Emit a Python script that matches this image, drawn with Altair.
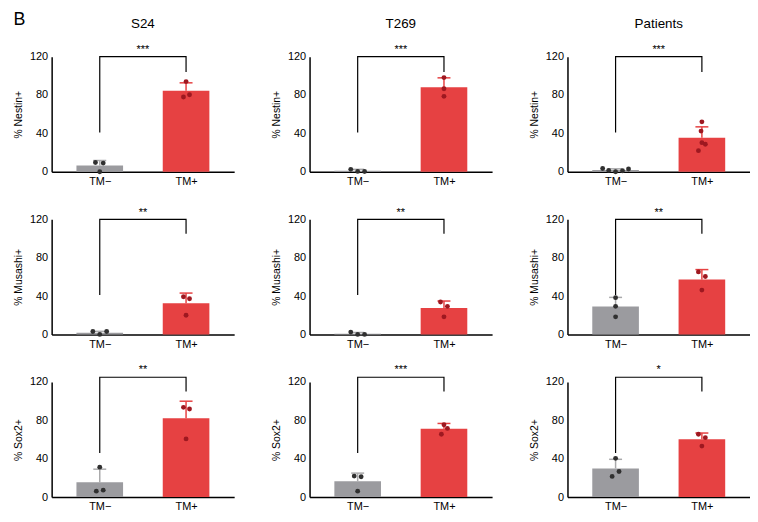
import altair as alt
import pandas as pd

FONT = "Liberation Sans"

COLS = ["S24", "T269", "Patients"]
ROW_TITLES = ["% Nestin+", "% Musashi+", "% Sox2+"]
GROUPS = ["TM\u2212", "TM+"]

# bar means [TM-, TM+] per panel, row-major (row = marker, col = cell line)
MEANS = [
    [[6.5, 84.5], [1.0, 88.0], [1.7, 35.5]],
    [[1.8, 32.4], [0.8, 27.6], [29.0, 57.2]],
    [[15.4, 82.3], [16.5, 71.3], [29.8, 60.4]],
]
# top of error bars
ERR_TOP = [
    [[11.7, 92.7], [2.5, 97.9], [3.0, 46.8]],
    [[3.2, 43.1], [2.0, 34.8], [38.6, 67.6]],
    [[29.1, 100.0], [25.0, 76.8], [39.4, 66.8]],
]
# individual replicate values [TM- list, TM+ list]
POINTS = [
    [[[9.6, 9.0, 0.0], [94.0, 77.9, 80.3]],
     [[2.5, 0.3, 0.2], [98.2, 86.5, 78.6]],
     [[3.4, 1.4, 0.0, 1.0, 2.8], [52.0, 42.4, 30.3, 28.6, 22.0]]],
    [[[3.0, 0.0, 3.0], [39.3, 37.2, 20.0]],
     [[2.4, 0.0, 0.0], [33.8, 29.3, 18.3]],
     [[38.3, 29.3, 18.3], [65.2, 60.4, 46.2]]],
    [[[31.2, 6.2, 7.2], [93.6, 91.9, 60.7]],
     [[21.9, 21.2, 6.2], [75.4, 71.6, 65.5]],
     [[40.4, 26.7, 21.6], [65.5, 62.0, 53.2]]],
]
# horizontal jitter of the replicate dots (fraction of category spacing)
JITTER = [
    [[[-0.05, 0.04, 0.0], [0.0, -0.03, 0.04]],
     [[-0.08, 0.0, 0.08], [0.0, 0.0, 0.0]],
     [[-0.15, -0.08, 0.0, 0.08, 0.15], [0.0, -0.01, 0.0, 0.04, -0.04]]],
    [[[-0.08, 0.0, 0.08], [-0.03, 0.04, 0.0]],
     [[-0.08, 0.0, 0.08], [-0.04, 0.04, 0.0]],
     [[0.0, 0.0, 0.0], [-0.04, 0.04, 0.0]]],
    [[[0.0, -0.04, 0.04], [-0.03, 0.04, 0.0]],
     [[-0.04, 0.04, 0.0], [0.0, 0.04, -0.03]],
     [[0.0, 0.04, -0.04], [-0.04, 0.04, 0.0]]],
]
STARS = [
    ["***", "***", "***"],
    ["**", "**", "**"],
    ["**", "***", "*"],
]
# bracket per row: left end, right end, top, star position
BRACKET = [
    [41, 104, 120, 127],
    [41, 105, 120, 127],
    [46, 110, 125, 132],
]

GRAY = "#9b9b9f"
RED = "#e64142"
GRAY_DOT = "#303030"
RED_DOT = "#9e1820"
GRAY_ERR = "#a9a9ab"

W, H = 184, 116
BAR_W = 47
CAP_HALF = 0.075


def xenc(field="pos"):
    return alt.X(
        f"{field}:Q",
        scale=alt.Scale(domain=[0.5, 2.5], nice=False, zero=False),
        axis=alt.Axis(values=[1, 2],
                      labelExpr=f"datum.value == 1 ? '{GROUPS[0]}' : '{GROUPS[1]}'",
                      labelPadding=4, grid=False, ticks=False),
        title=None,
    )


def yenc(field, title):
    return alt.Y(
        f"{field}:Q",
        scale=alt.Scale(domain=[0, 120], nice=False, zero=True),
        axis=alt.Axis(values=[0, 40, 80, 120], labelPadding=4, titlePadding=6,
                      grid=False, ticks=False),
        title=title,
    )


def panel(r, c):
    ytitle = ROW_TITLES[r]
    bars = pd.DataFrame({
        "pos": [1, 2],
        "grp": GROUPS,
        "mean": MEANS[r][c],
        "err": ERR_TOP[r][c],
    })
    prow = []
    for gi, g in enumerate(GROUPS):
        for v, j in zip(POINTS[r][c][gi], JITTER[r][c][gi]):
            prow.append({"pos": gi + 1 + j, "grp": g, "val": v})
    pts = pd.DataFrame(prow)
    lo, hi, top, star = BRACKET[r]
    br = pd.DataFrame({"pos": [1, 1, 2, 2], "y": [lo, top, top, hi], "o": [0, 1, 2, 3]})
    st = pd.DataFrame({"pos": [1.5], "y": [star], "t": [STARS[r][c]]})

    color_bar = alt.Color("grp:N", scale=alt.Scale(domain=GROUPS, range=[GRAY, RED]), legend=None)
    color_err = alt.Color("grp:N", scale=alt.Scale(domain=GROUPS, range=[GRAY_ERR, RED]), legend=None)
    color_dot = alt.Color("grp:N", scale=alt.Scale(domain=GROUPS, range=[GRAY_DOT, RED_DOT]), legend=None)

    base_b = alt.Chart(bars)
    bar = base_b.mark_bar(size=BAR_W, orient="vertical").encode(
        x=xenc(), y=yenc("mean", ytitle), color=color_bar)
    err = base_b.mark_rule(strokeWidth=1.5).encode(
        x=xenc(), y=yenc("mean", ytitle), y2="err:Q", color=color_err)
    cap = base_b.transform_calculate(
        l=f"datum.pos - {CAP_HALF}", rr=f"datum.pos + {CAP_HALF}"
    ).mark_rule(strokeWidth=1.5).encode(
        x=xenc("l"), x2="rr:Q", y=yenc("err", ytitle), color=color_err)
    dots = alt.Chart(pts).mark_circle(size=24, opacity=1).encode(
        x=xenc(), y=yenc("val", ytitle), color=color_dot)
    bracket = alt.Chart(br).mark_line(color="black", strokeWidth=1.2).encode(
        x=xenc(), y=yenc("y", ytitle), order="o:Q")
    stars = alt.Chart(st).mark_text(font=FONT, fontSize=11, color="black", baseline="middle").encode(
        x=xenc(), y=yenc("y", ytitle), text="t:N")

    layer = alt.layer(bar, err, cap, dots, bracket, stars).resolve_scale(color="independent")
    props = dict(width=W, height=H)
    if r == 0:
        props["title"] = alt.TitleParams(COLS[c], font=FONT, fontSize=13.5, fontWeight="normal",
                                         color="black", anchor="middle", offset=14)
    return layer.properties(**props)


panels = [panel(r, c) for r in range(3) for c in range(3)]

chart = alt.concat(
    *panels, columns=3, spacing={"row": 48, "column": 76}, bounds="flush",
    title=alt.TitleParams("B", anchor="start", font=FONT, fontSize=18, fontWeight="normal",
                          color="black", offset=-12),
).properties(
    padding={"left": 5, "top": 0, "right": 0, "bottom": 0}
).configure(background="white").configure_view(strokeWidth=0).configure_axis(
    grid=False, ticks=False, domainColor="black", domainWidth=1.5,
    labelColor="black", labelFont=FONT, labelFontSize=11,
    titleFont=FONT, titleFontSize=10.5, titleFontWeight="normal", titleColor="black",
)

chart.save("out.html", embed_options={"renderer": "svg", "actions": False})
